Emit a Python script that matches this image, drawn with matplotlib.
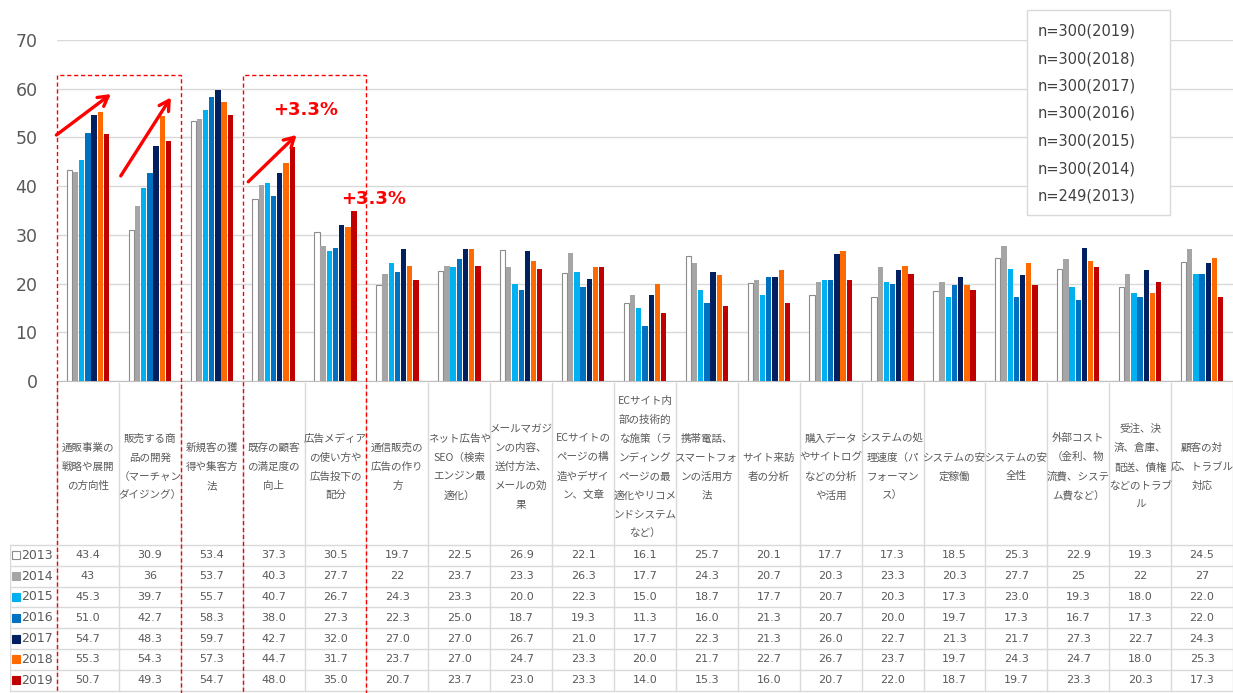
import matplotlib
matplotlib.use("Agg")
import matplotlib.pyplot as plt
import matplotlib.transforms as mtransforms
from matplotlib.patches import Rectangle
import numpy as np

plt.rcParams['font.family'] = ['DejaVu Sans', 'Noto Sans CJK JP']

categories = [
    "通販事業の\n戦略や展開\nの方向性",
    "販売する商\n品の開発\n（マーチャン\nダイジング）",
    "新規客の獲\n得や集客方\n法",
    "既存の顧客\nの満足度の\n向上",
    "広告メディア\nの使い方や\n広告投下の\n配分",
    "通信販売の\n広告の作り\n方",
    "ネット広告や\nSEO（検索\nエンジン最\n適化）",
    "メールマガジ\nンの内容、\n送付方法、\nメールの効\n果",
    "ECサイトの\nページの構\n造やデザイ\nン、文章",
    "ECサイト内\n部の技術的\nな施策（ラ\nンディング\nページの最\n適化やリコメ\nンドシステム\nなど）",
    "携帯電話、\nスマートフォ\nンの活用方\n法",
    "サイト来訪\n者の分析",
    "購入データ\nやサイトログ\nなどの分析\nや活用",
    "システムの処\n理速度（パ\nフォーマン\nス）",
    "システムの安\n定稼働",
    "システムの安\n全性",
    "外部コスト\n（金利、物\n流費、システ\nム費など）",
    "受注、決\n済、倉庫、\n配送、債権\nなどのトラブ\nル",
    "顧客の対\n応、トラブル\n対応",
]

years = ["2013", "2014", "2015", "2016", "2017", "2018", "2019"]

v2013 = [43.4, 30.9, 53.4, 37.3, 30.5, 19.7, 22.5, 26.9, 22.1, 16.1, 25.7, 20.1, 17.7, 17.3, 18.5, 25.3, 22.9, 19.3, 24.5]
v2014 = [43, 36, 53.7, 40.3, 27.7, 22, 23.7, 23.3, 26.3, 17.7, 24.3, 20.7, 20.3, 23.3, 20.3, 27.7, 25, 22, 27]
v2015 = [45.3, 39.7, 55.7, 40.7, 26.7, 24.3, 23.3, 20.0, 22.3, 15.0, 18.7, 17.7, 20.7, 20.3, 17.3, 23.0, 19.3, 18.0, 22.0]
v2016 = [51.0, 42.7, 58.3, 38.0, 27.3, 22.3, 25.0, 18.7, 19.3, 11.3, 16.0, 21.3, 20.7, 20.0, 19.7, 17.3, 16.7, 17.3, 22.0]
v2017 = [54.7, 48.3, 59.7, 42.7, 32.0, 27.0, 27.0, 26.7, 21.0, 17.7, 22.3, 21.3, 26.0, 22.7, 21.3, 21.7, 27.3, 22.7, 24.3]
v2018 = [55.3, 54.3, 57.3, 44.7, 31.7, 23.7, 27.0, 24.7, 23.3, 20.0, 21.7, 22.7, 26.7, 23.7, 19.7, 24.3, 24.7, 18.0, 25.3]
v2019 = [50.7, 49.3, 54.7, 48.0, 35.0, 20.7, 23.7, 23.0, 23.3, 14.0, 15.3, 16.0, 20.7, 22.0, 18.7, 19.7, 23.3, 20.3, 17.3]
series = [v2013, v2014, v2015, v2016, v2017, v2018, v2019]

sample_sizes = ["n=300(2019)", "n=300(2018)", "n=300(2017)", "n=300(2016)",
                "n=300(2015)", "n=300(2014)", "n=249(2013)"]

colors = ["#FFFFFF", "#A5A5A5", "#00B0F0", "#0070C0", "#002060", "#FF6A00", "#C00000"]
txt = "#595959"
grid = "#D9D9D9"

W, H = 1233, 693
fig = plt.figure(figsize=(W / 100, H / 100), dpi=100)

# main bar axes (pixel layout)
ax = fig.add_axes([57 / W, 1 - 381 / H, (W - 57) / W, (381 - 40) / H])
n = len(categories)
x = np.arange(n)
bw = 0.1
for i, (yr, vals) in enumerate(zip(years, series)):
    ec = "#8C8C8C" if i == 0 else colors[i]
    ax.bar(x + (i - 3) * bw, vals, width=bw * 0.86, color=colors[i],
           edgecolor=ec, linewidth=0.8 if i == 0 else 0, zorder=3)

ax.set_xlim(-0.5, n - 0.5)
ax.set_ylim(0, 70)
ax.set_yticks(range(0, 71, 10))
ax.tick_params(axis="y", length=0, labelsize=12.5, labelcolor=txt, pad=14)
ax.tick_params(axis="x", length=0, labelbottom=False)
ax.yaxis.grid(True, color=grid, linewidth=1)
ax.set_axisbelow(True)
for s in ["top", "right", "left"]:
    ax.spines[s].set_visible(False)
ax.spines["bottom"].set_color("#BFBFBF")

# annotations
red = "#FF0000"
arrows = [((-0.51, 50.5), (0.37, 58.9)), ((0.53, 42.1), (1.34, 58.2)), ((2.59, 40.9), (3.37, 50.5))]
for (x0, y0), (x1, y1) in arrows:
    ax.annotate("", xy=(x1, y1), xytext=(x0, y0), annotation_clip=False,
                arrowprops=dict(arrowstyle="->,head_length=0.7,head_width=0.4",
                                color=red, lw=2.4, shrinkA=0, shrinkB=0), zorder=5)
ax.text(3.51, 55.6, "+3.3%", color=red, fontsize=13, fontweight="bold",
        ha="center", va="center", zorder=5)
ax.text(4.62, 37.4, "+3.3%", color=red, fontsize=13, fontweight="bold",
        ha="center", va="center", zorder=5)

# table / label axes
tab = fig.add_axes([10 / W, 0, (W - 10) / W, (H - 382) / H])
px_unit = (W - 57) / n
left_u = -0.5 - 47 / px_unit
tab.set_xlim(left_u, n - 0.5)
tab.set_ylim(H, 382)
tab.axis("off")

row_top = 545
row_h = 20.8
nrows = len(years)
for k in range(n + 1):
    tab.plot([k - 0.5, k - 0.5], [383, row_top + nrows * row_h], color=grid, lw=1, zorder=1)
tab.plot([left_u, left_u], [row_top, row_top + nrows * row_h], color=grid, lw=1)
for r in range(nrows + 1):
    yy = row_top + r * row_h
    tab.plot([left_u, n - 0.5], [yy, yy], color=grid, lw=1)

for k, lab in enumerate(categories):
    tab.text(k, 467, lab, ha="center", va="center", fontsize=7.6, color=txt,
             linespacing=2.1, family=["Noto Sans CJK JP", "DejaVu Sans"])

for r, (yr, vals) in enumerate(zip(years, series)):
    yc = row_top + (r + 0.5) * row_h
    ec = "#8C8C8C" if r == 0 else colors[r]
    tab.plot(left_u + 6 / px_unit, yc, marker="s", markersize=6,
             markerfacecolor=colors[r], markeredgecolor=ec, markeredgewidth=0.8)
    tab.text(left_u + 11 / px_unit, yc, yr, ha="left", va="center", fontsize=9, color=txt)
    for k, v in enumerate(vals):
        s = f"{v:g}" if r < 2 else f"{v:.1f}"
        tab.text(k, yc, s, ha="center", va="center", fontsize=8, color=txt)

# red dashed boxes
bt = mtransforms.blended_transform_factory(ax.transData, fig.transFigure)
for a, b in [(-0.5, 1.5), (2.5, 4.5)]:
    fig.add_artist(Rectangle((a, -0.05), b - a, 1.05 - 75 / H, transform=bt, fill=False,
                             edgecolor=red, linestyle=(0, (3, 2)), linewidth=1, zorder=6))

# sample size box
fig.add_artist(Rectangle((1027 / W, 1 - 215 / H), (1170 - 1027) / W, (215 - 10) / H,
                         transform=fig.transFigure, facecolor="white", edgecolor=grid,
                         linewidth=1, zorder=7))
for i, s in enumerate(sample_sizes):
    fig.text(1038 / W, 1 - (31 + i * 27.5) / H, s, ha="left", va="center",
             fontsize=10.5, color="#404040", zorder=8)

plt.savefig("out.png", dpi=100)
